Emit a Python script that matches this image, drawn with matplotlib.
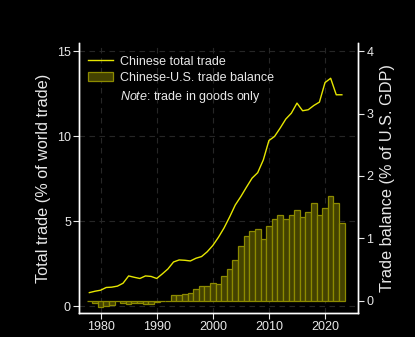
import matplotlib
matplotlib.use("Agg")
import matplotlib.pyplot as plt
from matplotlib.lines import Line2D
from matplotlib.patches import Patch

plt.rcParams['font.family'] = ['Liberation Sans', 'DejaVu Sans']
plt.rcParams['mathtext.fontset'] = 'custom'
plt.rcParams['mathtext.it'] = 'Liberation Sans:italic'
plt.rcParams['mathtext.rm'] = 'Liberation Sans'

years = list(range(1978, 2024))
total_trade = [0.80, 0.88, 0.94, 1.10, 1.12, 1.18, 1.35, 1.78, 1.70, 1.63,
               1.78, 1.75, 1.63, 1.90, 2.19, 2.60, 2.72, 2.70, 2.66, 2.82,
               2.92, 3.20, 3.57, 4.05, 4.60, 5.25, 5.95, 6.45, 7.00, 7.53,
               7.85, 8.60, 9.74, 9.98, 10.47, 11.00, 11.35, 11.94, 11.49, 11.55,
               11.80, 12.00, 13.15, 13.40, 12.43, 12.43]
trade_balance = [0.00, -0.03, -0.10, -0.085, -0.065, -0.01, -0.04, -0.05, -0.035, -0.04,
                 -0.05, -0.05, -0.02, -0.01, -0.005, 0.09, 0.09, 0.11, 0.12, 0.19,
                 0.24, 0.24, 0.29, 0.27, 0.40, 0.51, 0.65, 0.88, 1.04, 1.12,
                 1.15, 0.99, 1.20, 1.31, 1.37, 1.31, 1.37, 1.45, 1.34, 1.42,
                 1.57, 1.37, 1.49, 1.68, 1.57, 1.25]
left_ticks = [0, 5, 10, 15]
right_ticks = [0, 1, 2, 3, 4]
x_ticks = [1980, 1990, 2000, 2010, 2020]

line_color = '#e6e600'
bar_face = '#444200'
bar_edge = '#8c8a00'
txt = '#e8e8e8'
grid_c = '#262626'

fig = plt.figure(figsize=(4.15, 3.37), dpi=100, facecolor='black')
ax = fig.add_axes([0.191, 0.0712, 0.672, 0.801])
ax.set_facecolor('black')
ax2 = ax.twinx()

ax.plot(years, total_trade, color=line_color, lw=1.0, zorder=3)
ax2.bar(years, trade_balance, width=1.0, color=bar_face, edgecolor=bar_edge, linewidth=0.9, zorder=2)

ax.set_xlim(1976.2, 2025.9)
ax.set_ylim(-0.4, 15.47)
ax2.set_ylim(-0.197, 4.13)

ax.set_xticks(x_ticks)
ax.set_yticks(left_ticks)
ax2.set_yticks(right_ticks)

ax.grid(True, color=grid_c, linestyle=(0, (5, 4)), linewidth=0.8)
ax.set_axisbelow(True)

for a in (ax, ax2):
    a.spines['top'].set_visible(False)
    for s in ('left', 'right', 'bottom'):
        a.spines[s].set_color('white')
        a.spines[s].set_linewidth(1.0)
    a.tick_params(colors=txt, labelsize=9, length=4, width=0.8, pad=2)

ax.set_ylabel('Total trade (% of world trade)', color=txt, fontsize=11.7, labelpad=4)
ax2.set_ylabel('Trade balance (% of U.S. GDP)', color=txt, fontsize=11.7, labelpad=5)

handles = [Line2D([0], [0], color=line_color, lw=1.0),
           Patch(facecolor=bar_face, edgecolor=bar_edge, linewidth=0.9),
           Line2D([0], [0], color='none')]
labels = ['Chinese total trade', 'Chinese-U.S. trade balance', r'$\it{Note}$: trade in goods only']
leg = ax2.legend(handles, labels, loc='upper left', bbox_to_anchor=(0.0, 0.985),
                 frameon=False, fontsize=9, handlelength=2.0, handletextpad=0.56,
                 labelspacing=0.35, borderaxespad=0.3)
for t in leg.get_texts():
    t.set_color(txt)

fig.savefig('out.png', dpi=100, facecolor='black')
